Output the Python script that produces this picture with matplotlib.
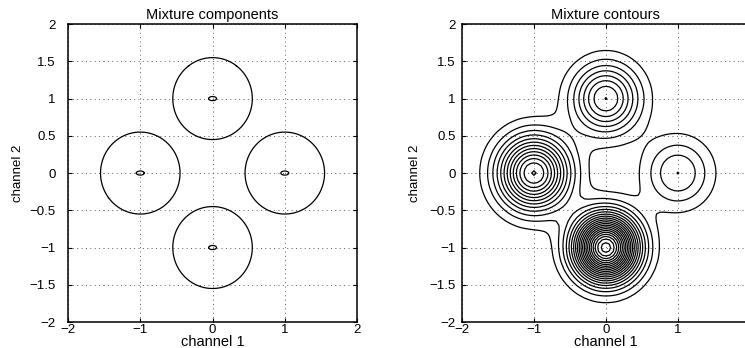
import numpy as np
import matplotlib.pyplot as plt

# gaussian mixture: isotropic components
mean_x = [0.0, -1.0, 1.0, 0.0]
mean_y = [1.0, 0.0, 0.0, -1.0]
weights = [0.18, 0.323, 0.09, 0.43]
variances = [0.100, 0.110, 0.100, 0.089]

x_ticks = [-2, -1, 0, 1, 2]
y_ticks = [-2, -1.5, -1, -0.5, 0, 0.5, 1, 1.5, 2]

outline_radius = 0.55   # outer ring drawn for each component
core_radius = 0.055     # small ring at each centre
core_aspect = 0.5       # core ring is flatter than wide
level_step = 0.0357     # spacing of mixture contour levels

plt.rcParams['font.family'] = ['Liberation Sans', 'DejaVu Sans']


def gauss(X, Y, mx, my, var):
    return np.exp(-((X - mx)**2 + (Y - my)**2) / (2*var)) / (2*np.pi*var)


def fmt(t):
    return ('%g' % t).replace('-', '\u2212')


def style_axes(ax, title, ypad, ylabelpad, hide_last_x=False):
    ax.set_xlim(-2, 2)
    ax.set_ylim(-2, 2)
    ax.set_xticks(x_ticks)
    xl = [fmt(t) for t in x_ticks]
    if hide_last_x:
        xl[-1] = ''
    ax.set_xticklabels(xl)
    ax.set_yticks(y_ticks)
    ax.set_yticklabels([fmt(t) for t in y_ticks])
    ax.grid(True, linestyle=(0, (1, 3.5)), color='0.35', linewidth=0.7)
    ax.tick_params(direction='in', length=3, width=0.8, top=True, right=True,
                   labelsize=9.5)
    ax.tick_params(axis='x', pad=1.5)
    ax.tick_params(axis='y', pad=ypad)
    for s in ax.spines.values():
        s.set_linewidth(1.1)
    ax.set_title(title, fontsize=10.5, pad=4)
    ax.set_xlabel('channel 1', fontsize=10.5, labelpad=-1)
    ax.set_ylabel('channel 2', fontsize=9.5, labelpad=ylabelpad)


fig = plt.figure(figsize=(7.45, 3.48), dpi=100)
ax1 = fig.add_axes([0.0913, 0.0747, 0.388, 0.856])
ax2 = fig.add_axes([0.620, 0.0747, 0.3866, 0.856])

# left: one outline and one core ring per component
g = np.linspace(-2, 2, 801)
X, Y = np.meshgrid(g, g)
for mx, my, var in zip(mean_x, mean_y, variances):
    d2 = (X - mx)**2 + (Y - my)**2
    ax1.contour(X, Y, d2, levels=[outline_radius**2], colors='k', linewidths=0.9)
    c2 = (X - mx)**2 + ((Y - my) / core_aspect)**2
    ax1.contour(X, Y, c2, levels=[core_radius**2], colors='k', linewidths=0.9)
style_axes(ax1, 'Mixture components', ypad=9, ylabelpad=4)

# right: equally spaced contours of the mixture density
g2 = np.linspace(-2, 2, 81)
X2, Y2 = np.meshgrid(g2, g2)
P = np.zeros_like(X2)
for mx, my, var, w in zip(mean_x, mean_y, variances, weights):
    P += w * gauss(X2, Y2, mx, my, var)
levels = level_step * np.arange(1, int(P.max()/level_step) + 1)
ax2.contour(X2, Y2, P, levels=levels, colors='k', linewidths=0.9)
style_axes(ax2, 'Mixture contours', ypad=4.5, ylabelpad=6, hide_last_x=True)

fig.savefig('out.png', dpi=100)
